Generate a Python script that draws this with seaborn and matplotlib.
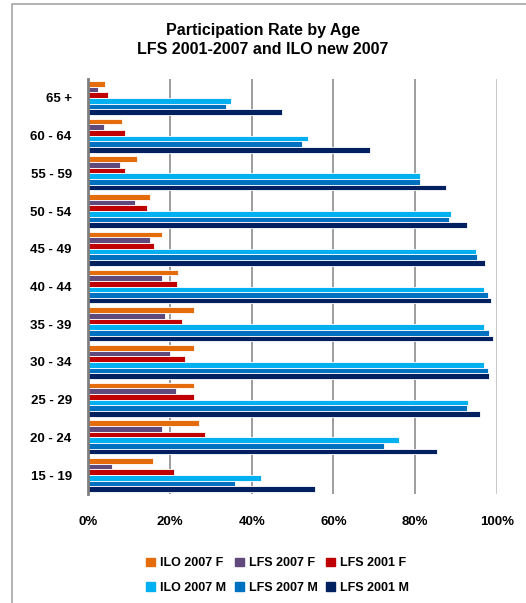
import seaborn as sns
import matplotlib.pyplot as plt
import matplotlib.patches as mpatches
import pandas as pd

# Grupos de edad (de arriba hacia abajo en la gráfica)
ages = ['65 +', '60 - 64', '55 - 59', '50 - 54', '45 - 49', '40 - 44',
        '35 - 39', '30 - 34', '25 - 29', '20 - 24', '15 - 19']

series = ['ILO 2007 F', 'LFS 2007 F', 'LFS 2001 F',
          'ILO 2007 M', 'LFS 2007 M', 'LFS 2001 M']

# Tasas de participación (%)
ilo07_f = [4.1, 8.3, 11.9, 15.0, 18.0, 21.9, 26.0, 26.0, 26.0, 27.2, 15.8]
lfs07_f = [2.4, 3.9, 7.8, 11.4, 15.0, 18.0, 18.9, 20.0, 21.4, 18.0, 5.7]
lfs01_f = [4.9, 8.9, 9.1, 14.4, 16.1, 21.6, 23.0, 23.8, 25.8, 28.6, 21.1]
ilo07_m = [35.0, 53.8, 81.1, 88.9, 95.0, 96.9, 96.9, 96.9, 93.0, 76.1, 42.4]
lfs07_m = [33.6, 52.4, 81.1, 88.3, 95.2, 97.8, 98.2, 97.8, 92.8, 72.5, 35.8]
lfs01_m = [47.5, 68.9, 87.5, 92.7, 97.2, 98.6, 99.2, 98.2, 96.0, 85.5, 55.5]

colors = ['#E46C0A', '#604A7B', '#C00000', '#00B0F0', '#0070C0', '#002060']

rows = []
for name, vals in zip(series, [ilo07_f, lfs07_f, lfs01_f, ilo07_m, lfs07_m, lfs01_m]):
    for age, v in zip(ages, vals):
        rows.append({'Age': age, 'Series': name, 'Rate': v})
df = pd.DataFrame(rows)

plt.rcParams['font.family'] = ['Liberation Sans', 'DejaVu Sans']

fig = plt.figure(figsize=(5.26, 6.03), dpi=100)
ax = fig.add_axes([88.3 / 526, 1 - 494 / 603, (496.7 - 88.3) / 526, (494 - 79) / 603])

sns.barplot(data=df, x='Rate', y='Age', hue='Series', order=ages,
            hue_order=series, palette=colors, orient='h', width=0.9,
            edgecolor='white', linewidth=0.6, saturation=1, ax=ax)

ax.set_xlim(0, 100)
ax.set_xticks([0, 20, 40, 60, 80, 100])
ax.set_xticklabels(['0%', '20%', '40%', '60%', '80%', '100%'],
                   fontweight='bold', fontsize=9.5)
for lbl in ax.get_yticklabels():
    lbl.set_fontweight('bold')
    lbl.set_fontsize(9.5)
ax.tick_params(axis='both', length=0)
ax.tick_params(axis='x', pad=16)
ax.tick_params(axis='y', pad=12)
ax.set_xlabel('')
ax.set_ylabel('')
ax.xaxis.grid(True, color='#8C8C8C', linewidth=1.2)
ax.get_xgridlines()[-1].set_color('#BFBFBF')
ax.set_axisbelow(True)
for s in ['top', 'right', 'bottom']:
    ax.spines[s].set_visible(False)
ax.spines['left'].set_color('#7F7F7F')
ax.spines['left'].set_linewidth(2)
ax.set_ylim(len(ages) - 0.5, -0.5)

ax.legend_.remove()
# orden por filas: F arriba, M abajo
leg_order = [0, 3, 1, 4, 2, 5]
handles = [mpatches.Patch(color=colors[i], label=series[i]) for i in leg_order]
fig.legend(handles=handles, ncol=3, loc='upper left',
           bbox_to_anchor=(135 / 526, 1 - 546 / 603), frameon=False,
           prop={'weight': 'bold', 'size': 9}, handlelength=0.7,
           handleheight=0.7, handletextpad=0.4, columnspacing=0.7,
           labelspacing=1.0)

fig.text(0.5, 1 - 30 / 603, 'Participation Rate by Age', ha='center',
         va='center', fontsize=11.5, fontweight='bold')
fig.text(0.5, 1 - 50 / 603, 'LFS 2001-2007 and ILO new 2007', ha='center',
         va='center', fontsize=11.5, fontweight='bold')

# Marco exterior del gráfico
fig.patches.append(mpatches.Rectangle((12 / 526, -0.01), 1.0, 1 - 4 / 603 + 0.01,
                                      transform=fig.transFigure, fill=False,
                                      edgecolor='#A6A6A6', linewidth=1.2))

fig.savefig('out.png', dpi=100)
